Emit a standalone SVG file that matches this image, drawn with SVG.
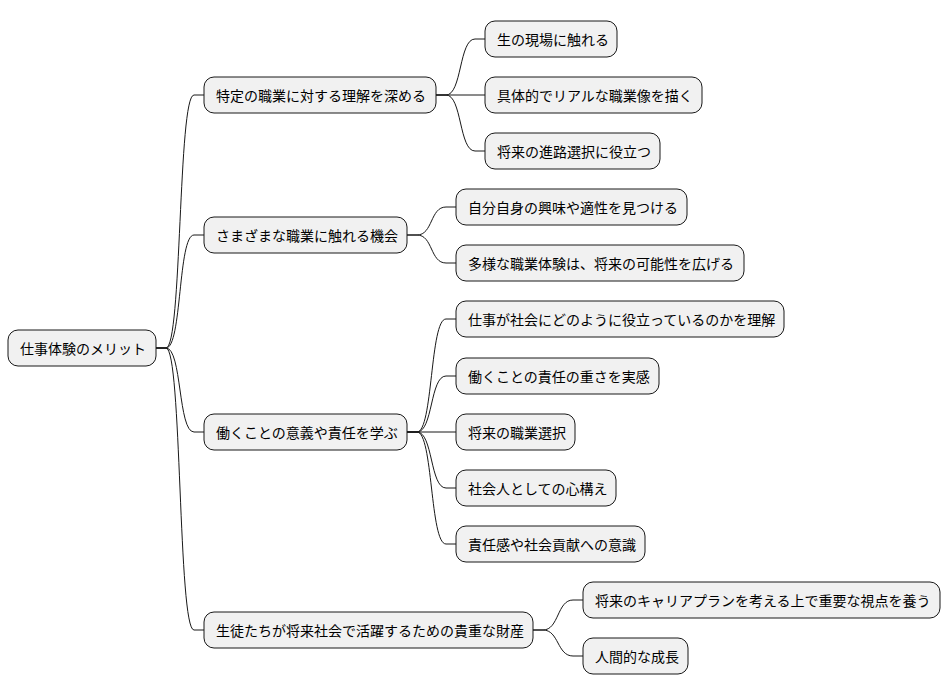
<svg xmlns="http://www.w3.org/2000/svg" width="950" height="696" viewBox="0 0 950 696">
<style>
rect{fill:#f1f1f1;stroke:#181818;stroke-width:1}
text{font-family:"Noto Sans CJK JP","Noto Sans",sans-serif;font-size:14px;fill:#000;dominant-baseline:central}
path{fill:none;stroke:#181818;stroke-width:1}
</style>
<rect x="0" y="0" width="950" height="696" style="fill:#fff;stroke:none"/>
<g id="connectors">
<path d="M156,348 L166,348 C182,348 178,95 194,95 L204,95"/>
<path d="M156,348 L166,348 C182,348 178,235 194,235 L204,235"/>
<path d="M156,348 L166,348 C182,348 178,432 194,432 L204,432"/>
<path d="M156,348 L166,348 C182,348 178,630 194,630 L204,630"/>
<path d="M436,95 L446,95 C462,95 459,39 475,39 L485,39"/>
<path d="M436,95 L485,95"/>
<path d="M436,95 L446,95 C462,95 459,151 475,151 L485,151"/>
<path d="M407,235 L417,235 C433,235 430,207 446,207 L456,207"/>
<path d="M407,235 L417,235 C433,235 430,263 446,263 L456,263"/>
<path d="M407,432 L417,432 C433,432 430,319 446,319 L456,319"/>
<path d="M407,432 L417,432 C433,432 430,376 446,376 L456,376"/>
<path d="M407,432 L456,432"/>
<path d="M407,432 L417,432 C433,432 430,488 446,488 L456,488"/>
<path d="M407,432 L417,432 C433,432 430,544 446,544 L456,544"/>
<path d="M533,630 L543,630 C559,630 557,600 573,600 L583,600"/>
<path d="M533,630 L543,630 C559,630 557,656 573,656 L583,656"/>
</g>
<g id="root"><rect x="8" y="330" width="148" height="36" rx="10"/><text x="20" y="348">仕事体験のメリット</text></g>
<g id="n1"><rect x="204" y="77" width="232" height="36" rx="10"/><text x="216" y="95">特定の職業に対する理解を深める</text></g>
<g id="n2"><rect x="204" y="217" width="203" height="36" rx="10"/><text x="216" y="235">さまざまな職業に触れる機会</text></g>
<g id="n3"><rect x="204" y="414" width="203" height="36" rx="10"/><text x="216" y="432">働くことの意義や責任を学ぶ</text></g>
<g id="n4"><rect x="204" y="612" width="329" height="36" rx="10"/><text x="216" y="630">生徒たちが将来社会で活躍するための貴重な財産</text></g>
<g id="n11"><rect x="485" y="21" width="132" height="36" rx="10"/><text x="497" y="39">生の現場に触れる</text></g>
<g id="n12"><rect x="485" y="77" width="217" height="36" rx="10"/><text x="497" y="95">具体的でリアルな職業像を描く</text></g>
<g id="n13"><rect x="485" y="133" width="175" height="36" rx="10"/><text x="497" y="151">将来の進路選択に役立つ</text></g>
<g id="n21"><rect x="456" y="189" width="231" height="36" rx="10"/><text x="468" y="207">自分自身の興味や適性を見つける</text></g>
<g id="n22"><rect x="456" y="245" width="288" height="36" rx="10"/><text x="468" y="263">多様な職業体験は、将来の可能性を広げる</text></g>
<g id="n31"><rect x="456" y="301" width="328" height="36" rx="10"/><text x="468" y="319">仕事が社会にどのように役立っているのかを理解</text></g>
<g id="n32"><rect x="456" y="358" width="203" height="36" rx="10"/><text x="468" y="376">働くことの責任の重さを実感</text></g>
<g id="n33"><rect x="456" y="414" width="119" height="36" rx="10"/><text x="468" y="432">将来の職業選択</text></g>
<g id="n34"><rect x="456" y="470" width="160" height="36" rx="10"/><text x="468" y="488">社会人としての心構え</text></g>
<g id="n35"><rect x="456" y="526" width="189" height="36" rx="10"/><text x="468" y="544">責任感や社会貢献への意識</text></g>
<g id="n41"><rect x="583" y="582" width="357" height="36" rx="10"/><text x="595" y="600">将来のキャリアプランを考える上で重要な視点を養う</text></g>
<g id="n42"><rect x="583" y="638" width="105" height="36" rx="10"/><text x="595" y="656">人間的な成長</text></g>
</svg>
